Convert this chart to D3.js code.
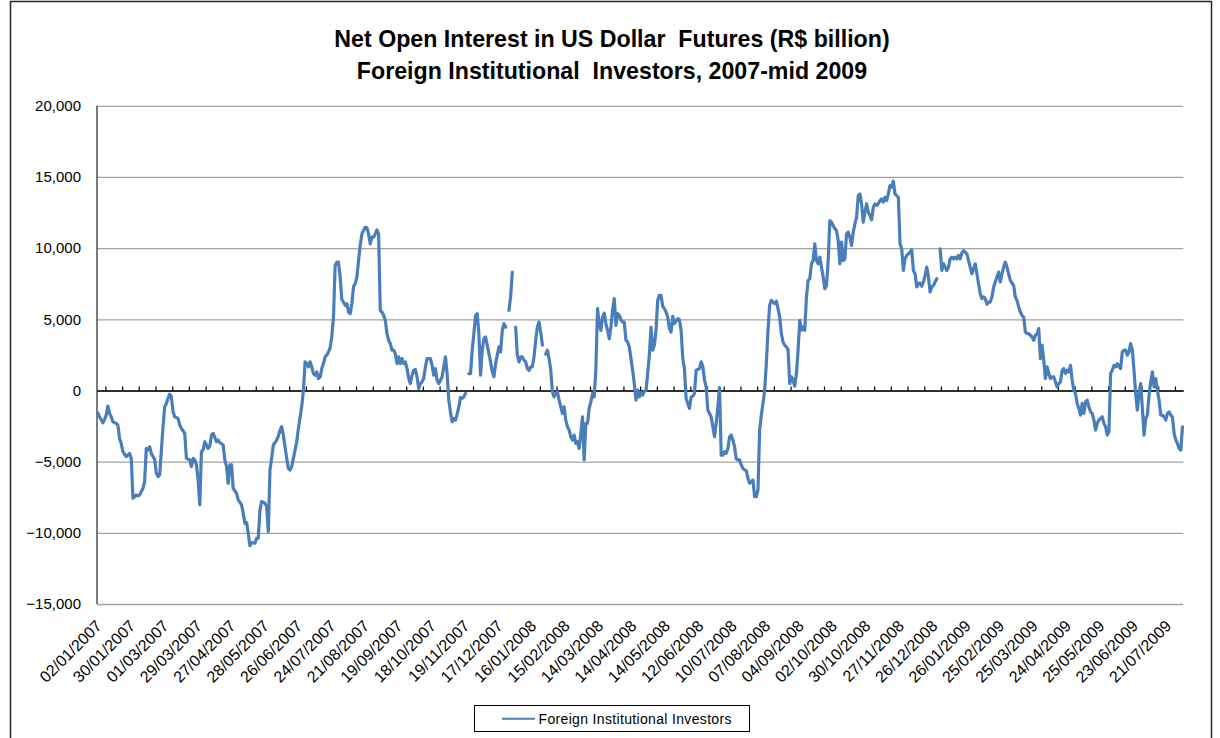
<!DOCTYPE html>
<html>
<head>
<meta charset="utf-8">
<script src="https://cdn.jsdelivr.net/npm/d3@7"></script>
<style>
  body { margin: 0; background: #fff; }
  text { font-family: "Liberation Sans", Arial, sans-serif; }
  .title { white-space: pre; }
</style>
</head>
<body>
<div id="chart"></div>
<script>
//Net open interest of foreign institutional investors
//each row is [trading day, value]; null marks a day with no data (gap in the line)
const series = [
  [0,-1570],[1,-1850],[3,-2270],[4,-2030],[5,-1730],[6,-1100],[7,-1610],[8,-1850],[9,-2200],[11,-2310],
  [12,-2430],[13,-3370],[14,-3720],[15,-4300],[17,-4650],[18,-4530],[19,-4420],[20,-4770],[21,-7570],[23,-7340],
  [24,-7410],[25,-7340],[27,-6870],[28,-6400],[29,-4070],[30,-4180],[31,-3950],[32,-4420],[34,-4840],[35,-5820],
  [36,-6050],[37,-5930],[39,-2550],[40,-1150],[41,-910],[42,-560],[43,-260],[44,-440],[45,-1500],[46,-1850],
  [48,-1960],[49,-2430],[50,-2660],[52,-3020],[53,-4770],[55,-4880],[56,-5350],[57,-4770],[58,-4880],[59,-5230],
  [60,-6290],[61,-8040],[62,-4300],[63,-4180],[64,-3600],[66,-4070],[67,-3900],[68,-3130],[69,-3010],[70,-3300],
  [71,-3600],[72,-3480],[73,-3670],[75,-3830],[76,-4880],[77,-5350],[78,-6520],[79,-5230],[80,-5230],[81,-6870],
  [83,-7220],[84,-7690],[86,-8040],[87,-8620],[88,-9330],[89,-9280],[90,-10030],[91,-10910],[92,-10680],[94,-10730],
  [95,-10380],[96,-10380],[97,-8390],[98,-7800],[100,-7920],[101,-8150],[102,-9910],[103,-5580],[104,-4770],[105,-3830],
  [107,-3480],[108,-3200],[109,-2800],[110,-2550],[111,-3130],[112,-3950],[113,-4770],[114,-5470],[115,-5590],[116,-5350],
  [117,-4770],[118,-4190],[119,-3600],[120,-2670],[121,-1900],[122,-1100],[123,0],[124,2010],[125,1890],[126,1660],
  [127,2010],[128,1660],[129,1190],[130,1070],[131,1310],[132,840],[133,960],[134,1540],[135,1890],[136,2360],
  [137,2480],[138,2710],[139,3000],[140,3800],[141,5160],[142,8780],[143,9020],[144,9020],[145,7970],[146,6380],
  [147,6210],[148,5980],[149,6100],[150,5510],[151,5400],[152,6100],[153,7310],[154,7500],[155,7970],[156,9130],
  [157,10190],[158,11000],[159,11240],[160,11470],[161,11430],[162,11000],[163,10300],[164,10770],[165,10770],[166,11000],
  [167,11280],[168,11000],[169,5630],[170,5510],[171,5280],[172,4930],[173,3990],[174,3530],[175,3290],[176,2830],
  [177,2830],[178,2590],[179,1890],[180,2360],[181,1890],[182,2240],[183,1890],[184,2010],[185,1540],[186,840],
  [187,490],[188,1070],[189,1420],[190,1470],[191,960],[192,140],[193,490],[194,610],[195,840],[196,1660],
  [197,2240],[198,2240],[199,2240],[200,1770],[201,1070],[202,1540],[203,720],[204,490],[205,720],[206,960],
  [207,1660],[208,2360],[209,1190],[210,-680],[211,-1500],[212,-2200],[213,-1960],[214,-2080],[215,-1660],[216,-1150],
  [217,-490],[218,-560],[219,-450],[220,-210],[221,null],[222,1190],[223,1190],[224,2830],[225,4000],[226,5280],
  [227,5400],[228,4000],[229,1070],[230,2830],[231,3640],[232,3760],[233,3180],[234,2590],[235,2010],[236,1310],
  [237,960],[238,1890],[239,2480],[240,3060],[241,2710],[242,4230],[243,4700],[244,4460],[245,null],[246,5630],
  [247,6600],[248,8320],[249,null],[250,4460],[251,2480],[252,2010],[253,2360],[254,2360],[255,2130],[256,2010],
  [257,1540],[258,1420],[259,1660],[260,1660],[261,2360],[262,3530],[263,4460],[264,4810],[265,4110],[266,3180],
  [267,null],[268,2550],[269,2830],[270,2240],[271,1420],[272,-100],[273,-450],[274,-210],[275,-100],[276,-680],
  [277,-1150],[278,-1610],[279,-1150],[280,-2080],[281,-2550],[282,-2780],[283,-3250],[284,-3480],[285,-3130],[286,-3720],
  [287,-3600],[288,-4070],[289,-3020],[290,-1850],[291,-4880],[292,-2310],[293,-2310],[294,-1260],[295,-800],[296,-210],
  [297,-450],[298,1500],[299,5750],[300,4700],[301,4230],[302,5160],[303,5440],[304,4700],[305,4230],[306,3640],
  [307,4460],[308,5630],[309,6450],[310,4580],[311,5400],[312,5280],[313,4980],[314,4810],[315,4810],[316,3530],
  [317,3410],[318,3060],[319,2240],[320,1420],[321,490],[322,-680],[323,20],[324,-450],[325,-150],[326,-330],
  [327,-50],[328,0],[329,1200],[330,2480],[331,4460],[332,2830],[333,3180],[334,4230],[335,6330],[336,6680],
  [337,6680],[338,5910],[339,5750],[340,5510],[341,5160],[342,4350],[343,4110],[344,5210],[345,4700],[346,4880],
  [347,5040],[348,4970],[349,4230],[350,2240],[351,1540],[352,-560],[353,-910],[354,-1260],[355,-450],[356,-400],
  [357,-210],[358,1420],[359,1470],[360,1540],[361,2010],[362,1700],[363,720],[364,250],[365,-1380],[366,-1610],
  [367,-1850],[368,-2550],[369,-3250],[370,-2310],[371,-1150],[372,210],[373,-4540],[374,-4540],[375,-4300],[376,-4420],
  [377,-4070],[378,-3250],[379,-3130],[380,-3480],[381,-3950],[382,-4810],[383,-4880],[384,-4880],[385,-5230],[386,-5470],
  [387,-5580],[388,-5630],[389,-6170],[390,-6520],[391,-6400],[392,-6290],[393,-7460],[394,-7460],[395,-6990],[396,-2780],
  [397,-1730],[398,-910],[399,20],[400,1890],[401,4230],[402,5980],[403,6330],[404,6210],[405,6100],[406,6280],
  [407,5750],[408,5160],[409,3990],[410,3410],[411,3180],[412,3060],[413,2870],[414,490],[415,960],[416,720],
  [417,300],[418,1190],[419,2830],[420,4930],[421,4230],[422,4460],[423,4230],[424,6560],[425,7730],[426,7850],
  [427,8900],[428,9130],[429,10300],[430,9130],[431,8900],[432,9370],[433,8670],[434,7970],[435,7150],[436,7380],
  [437,9130],[438,11940],[439,11820],[440,11590],[441,11360],[442,11240],[443,10540],[444,8900],[445,10420],[446,9130],
  [447,9250],[448,11000],[449,11120],[450,10770],[451,10190],[452,11120],[453,11700],[454,12170],[455,13690],[456,13810],
  [457,13110],[458,11820],[459,12520],[460,13110],[461,12520],[462,12290],[463,11990],[464,12880],[465,13110],[466,13000],
  [467,13110],[468,13340],[469,13460],[470,13230],[471,13570],[472,13340],[473,13810],[474,14390],[475,14300],[476,14700],
  [477,13810],[478,13690],[479,13570],[480,10300],[481,9950],[482,8430],[483,9250],[484,9490],[485,9600],[486,9720],
  [487,9880],[488,8430],[489,8200],[490,7270],[491,7500],[492,7550],[493,7320],[494,7620],[495,8090],[496,8670],
  [497,7970],[498,6920],[499,7270],[500,7380],[501,7620],[502,7850],[503,null],[504,9950],[505,8430],[506,8900],
  [507,8670],[508,8430],[509,8670],[510,9250],[511,9370],[512,9250],[513,9370],[514,9250],[515,9490],[516,9250],
  [517,9650],[518,9830],[519,9720],[520,9600],[521,9130],[522,8670],[523,8200],[524,8550],[525,8900],[526,8200],
  [527,7500],[528,6800],[529,6450],[530,6570],[531,6450],[532,6050],[533,6210],[534,6210],[535,6570],[536,7270],
  [537,7620],[538,7970],[539,8320],[540,7620],[541,8200],[542,8670],[543,9020],[544,8670],[545,8200],[546,7730],
  [547,7550],[548,7380],[549,6570],[550,6330],[551,5870],[552,5510],[553,5280],[554,5160],[555,4110],[556,3990],
  [557,3990],[558,3880],[559,3760],[560,3530],[561,3880],[562,3990],[563,4350],[564,2240],[565,3180],[566,2120],
  [567,840],[568,1660],[569,1190],[570,840],[571,960],[572,960],[573,610],[574,250],[575,490],[576,610],
  [577,1420],[578,1540],[579,1190],[580,1420],[581,1310],[582,1770],[583,720],[584,20],[585,-210],[586,-910],
  [587,-1260],[588,-1730],[589,-910],[590,-1610],[591,-800],[592,-680],[593,-1150],[594,-1500],[595,-1610],[596,-2080],
  [597,-2780],[598,-2310],[599,-2080],[600,-1960],[601,-1850],[602,-2310],[603,-2550],[604,-3130],[605,-2900],[606,1190],
  [607,1420],[608,1770],[609,1660],[610,1890],[611,1660],[612,1540],[613,2710],[614,2830],[615,2830],[616,2480],
  [617,2710],[618,3290],[619,2830],[620,1420],[621,-210],[622,-1380],[623,-210],[624,490],[625,-1260],[626,-3130],
  [627,-1960],[628,-1730],[629,-330],[630,610],[631,1310],[632,250],[633,840],[634,20],[635,-680],[636,-1730],
  [637,-1730],[638,-1850],[639,-2080],[640,-1610],[641,-1500],[642,-1730],[643,-1850],[644,-3020],[645,-3480],[646,-3720],
  [647,-4070],[648,-4190],[649,-2550]
];
const totalDays = 650;

//category labels, one every 20 trading days starting at day 0
const dateLabels = [
  "02/01/2007","30/01/2007","01/03/2007","29/03/2007","27/04/2007","28/05/2007","26/06/2007","24/07/2007",
  "21/08/2007","19/09/2007","18/10/2007","19/11/2007","17/12/2007","16/01/2008","15/02/2008","14/03/2008",
  "14/04/2008","14/05/2008","12/06/2008","10/07/2008","07/08/2008","04/09/2008","02/10/2008","30/10/2008",
  "27/11/2008","26/12/2008","26/01/2009","25/02/2009","25/03/2009","24/04/2009","25/05/2009","23/06/2009",
  "21/07/2009"
];
const labelEvery = 20;
const tickEvery = 10;
const yTicks = [-15000, -10000, -5000, 0, 5000, 10000, 15000, 20000];

const titleLines = [
  "Net Open Interest in US Dollar  Futures (R$ billion)",
  "Foreign Institutional  Investors, 2007-mid 2009"
];
const seriesName = "Foreign Institutional Investors";

//Layout
const width = 1220, height = 738;
const plot = {left: 97, right: 1183.3, top: 105.8, bottom: 604};
const lineColor = "#4A7EBB";

const svg = d3.select("#chart").append("svg")
  .attr("width", width).attr("height", height);

svg.append("rect").attr("width", width).attr("height", height).attr("fill", "#fff");
//outer chart frame
svg.append("rect")
  .attr("x", 10.5).attr("y", 1.5).attr("width", 1201).attr("height", 760)
  .attr("fill", "none").attr("stroke", "#262626").attr("stroke-width", 1.5);

//Scales
const x = d3.scaleBand().domain(d3.range(totalDays)).range([plot.left, plot.right]);
const xMid = d => x(d) + x.bandwidth() / 2;
const xEdge = d3.scaleLinear().domain([0, totalDays]).range([plot.left, plot.right]);
const y = d3.scaleLinear().domain([-15000, 20000]).range([plot.bottom, plot.top]);

//Gridlines and value labels
const yAxis = d3.axisLeft(y)
  .tickValues(yTicks)
  .tickSize(-(plot.right - plot.left))
  .tickPadding(16)
  .tickFormat(d3.format(","));
const yAxisGroup = svg.append("g").attr("transform", `translate(${plot.left},0)`).call(yAxis);
yAxisGroup.select(".domain").remove();
yAxisGroup.selectAll(".tick line").attr("stroke", "#a3a3a3").attr("stroke-width", 1.3);
yAxisGroup.selectAll(".tick text")
  .attr("font-size", 15).attr("fill", "#000")
  .attr("font-family", "'Liberation Sans', Arial, sans-serif");

//vertical axis line
svg.append("line")
  .attr("x1", plot.left).attr("x2", plot.left)
  .attr("y1", plot.top).attr("y2", plot.bottom)
  .attr("stroke", "#262626").attr("stroke-width", 1.2);

//Horizontal axis at zero, tick marks between categories
const tickAxis = d3.axisTop(xEdge)
  .tickValues(d3.range(tickEvery / 2, totalDays, tickEvery))
  .tickSize(4).tickSizeOuter(0).tickFormat("");
const zeroGroup = svg.append("g").attr("transform", `translate(0,${y(0)})`).call(tickAxis);
zeroGroup.select(".domain").attr("stroke", "#000").attr("stroke-width", 1.5);
zeroGroup.selectAll(".tick line").attr("stroke", "#000").attr("stroke-width", 1.2);

//Date labels below the plot
const labelAxis = d3.axisBottom(x)
  .tickValues(d3.range(0, totalDays, labelEvery))
  .tickSize(0)
  .tickFormat(d => dateLabels[d / labelEvery]);
const labelGroup = svg.append("g").attr("transform", `translate(1,623)`).call(labelAxis);
labelGroup.select(".domain").remove();
labelGroup.selectAll(".tick text")
  .attr("x", 0).attr("y", 0).attr("dy", "0.35em")
  .attr("text-anchor", "end")
  .attr("transform", "rotate(-45)")
  .attr("font-size", 16).attr("fill", "#000")
  .attr("font-family", "'Liberation Sans', Arial, sans-serif");

//Series line
const line = d3.line()
  .defined(d => d[1] !== null)
  .x(d => xMid(d[0]))
  .y(d => y(d[1]));
svg.append("path")
  .datum(series)
  .attr("d", line)
  .attr("fill", "none")
  .attr("stroke", lineColor)
  .attr("stroke-width", 3.2)
  .attr("stroke-linejoin", "round")
  .attr("stroke-linecap", "round");

//Title
svg.selectAll(".title").data(titleLines).enter().append("text")
  .attr("class", "title")
  .attr("x", 612).attr("y", (d, i) => 47 + i * 32)
  .attr("text-anchor", "middle")
  .attr("font-family", "Lato, 'Open Sans', sans-serif")
  .attr("font-weight", "bold")
  .attr("font-size", 23.2)
  .text(d => d);

//Legend
const legend = svg.append("g");
legend.append("rect")
  .attr("x", 474.5).attr("y", 705.5).attr("width", 275).attr("height", 26)
  .attr("fill", "#fff").attr("stroke", "#000").attr("stroke-width", 1);
legend.append("line")
  .attr("x1", 502).attr("x2", 535).attr("y1", 718.7).attr("y2", 718.7)
  .attr("stroke", lineColor).attr("stroke-width", 2);
legend.append("text")
  .attr("x", 538.5).attr("y", 723.7)
  .attr("font-size", 14)
  .attr("textLength", 193)
  .text(seriesName);
</script>
</body>
</html>
